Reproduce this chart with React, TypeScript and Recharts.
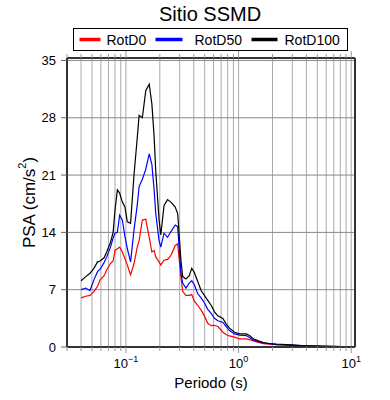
import React from 'react';
import { LineChart, Line, XAxis, YAxis, CartesianGrid, Legend, Label } from 'recharts';

const periods = [0.040, 0.044, 0.048, 0.052, 0.056, 0.059, 0.064, 0.068, 0.073, 0.077, 0.080, 0.084, 0.088, 0.093, 0.098, 0.103, 0.110, 0.118, 0.126, 0.131, 0.140, 0.150, 0.161, 0.170, 0.178, 0.184, 0.197, 0.204, 0.218, 0.234, 0.251, 0.274, 0.288, 0.308, 0.319, 0.341, 0.365, 0.384, 0.405, 0.434, 0.465, 0.497, 0.533, 0.571, 0.611, 0.655, 0.726, 0.777, 0.831, 0.921, 1.02, 1.17, 1.25, 1.35, 1.50, 1.66, 1.88, 2.17, 2.67, 3.63, 5.47, 8.26, 10.0];

const rotD0 = [6.0, 6.2, 6.3, 6.8, 7.4, 8.2, 8.7, 9.5, 10.2, 10.5, 11.8, 12.0, 12.2, 11.6, 10.8, 10.0, 8.8, 10.2, 12.2, 13.0, 15.5, 15.6, 13.4, 11.6, 11.8, 11.0, 10.4, 10.0, 10.6, 10.7, 11.2, 12.4, 12.6, 8.5, 6.8, 6.3, 6.3, 6.4, 5.6, 5.1, 4.5, 3.8, 2.9, 2.6, 2.65, 2.5, 1.8, 1.5, 1.35, 1.2, 1.0, 1.0, 0.9, 0.75, 0.55, 0.42, 0.35, 0.28, 0.22, 0.14, 0.08, 0.05, 0.04];

const rotD50 = [7.0, 7.2, 6.9, 8.2, 9.2, 9.5, 10.3, 11.1, 12.2, 13.3, 13.9, 14.0, 16.1, 15.5, 13.5, 12.0, 10.4, 14.3, 17.3, 19.6, 20.5, 21.7, 23.6, 22.3, 19.2, 16.3, 13.0, 12.2, 13.9, 13.4, 14.1, 14.9, 14.7, 9.0, 7.8, 7.2, 7.8, 8.1, 7.6, 6.5, 6.0, 5.4, 4.6, 4.1, 3.5, 3.2, 3.0, 2.5, 2.0, 1.6, 1.45, 1.4, 1.15, 0.85, 0.65, 0.5, 0.4, 0.3, 0.25, 0.16, 0.09, 0.05, 0.04];

const rotD100 = [8.1, 8.6, 9.0, 9.6, 10.4, 10.5, 10.9, 11.7, 12.8, 14.0, 16.7, 19.2, 18.8, 17.7, 17.1, 15.3, 15.1, 21.0, 25.5, 28.3, 28.0, 31.3, 32.1, 29.7, 25.7, 21.5, 15.5, 13.7, 17.3, 18.0, 17.7, 17.1, 16.3, 10.6, 8.6, 8.3, 8.7, 9.6, 9.1, 8.0, 6.9, 6.3, 5.7, 5.1, 4.3, 3.8, 3.5, 2.8, 2.3, 1.8, 1.6, 1.6, 1.4, 1.0, 0.75, 0.55, 0.43, 0.34, 0.28, 0.18, 0.1, 0.06, 0.05];

const yTicks = [0, 7, 14, 21, 28, 35];
const xTicks = [0.03, 0.04, 0.05, 0.06, 0.07, 0.08, 0.09, 0.1, 0.2, 0.3, 0.4, 0.5, 0.6, 0.7, 0.8, 0.9, 1, 2, 3, 4, 5, 6, 7, 8, 9, 10];
const majorTickValues = [0.1, 1, 10];
const majorTickExponents = ['\u22121', '0', '1'];

const seriesNames = ['RotD0', 'RotD50', 'RotD100'];
const seriesColors = ['#ff0000', '#0000ff', '#000000'];
const seriesValues = [rotD0, rotD50, rotD100];

const titleText = 'Sitio SSMD';
const xLabelText = 'Periodo (s)';

const FONT = '"Liberation Sans", Arial, Helvetica, sans-serif';

const data = periods.map((T, i) => {
  const row: Record<string, number> = { T };
  seriesNames.forEach((name, k) => {
    row[name] = seriesValues[k][i];
  });
  return row;
});

const majorIndex = (v: number) => majorTickValues.findIndex((m) => Math.abs(m - v) < 1e-9);

const BottomTick = (props: any) => {
  const { x, y, payload } = props;
  const idx = majorIndex(payload.value);
  const len = idx >= 0 ? 6 : 4;
  return (
    <g>
      <line x1={x} x2={x} y1={y} y2={y + len} stroke="#999" strokeWidth={1} />
      {idx >= 0 && (
        <text x={x} y={y + 21} textAnchor="middle" fontSize={13} fontFamily={FONT} fill="#000">
          10
          <tspan dy={-6} fontSize={9}>{majorTickExponents[idx]}</tspan>
        </text>
      )}
    </g>
  );
};

const TopTick = (props: any) => {
  const { x, y, payload } = props;
  const idx = majorIndex(payload.value);
  const len = idx >= 0 ? 7 : 4;
  return <line x1={x} x2={x} y1={y} y2={y - len} stroke="#999" strokeWidth={1} />;
};

const LegendBox = () => (
  <div
    style={{
      width: 275,
      height: 23,
      border: '1.5px solid #000',
      boxSizing: 'border-box',
      position: 'relative',
      background: '#fff',
    }}
  >
    <svg width={272} height={20} style={{ position: 'absolute', left: 0, top: 0 }}>
      {seriesNames.map((name, i) => {
        const lineStart = [5.5, 81.5, 177.5][i];
        const lineEnd = [26.5, 108.5, 203.5][i];
        const textX = [32.5, 120.5, 210.5][i];
        return (
          <g key={name}>
            <line x1={lineStart} x2={lineEnd} y1={10.5} y2={10.5} stroke={seriesColors[i]} strokeWidth={3.5} />
            <text x={textX} y={15.5} fontSize={14} fontFamily={FONT} fill="#000">
              {name}
            </text>
          </g>
        );
      })}
    </svg>
  </div>
);

const XLabel = (props: any) => {
  const vb = props.viewBox || { x: 67, y: 347, width: 288, height: 53 };
  return (
    <text x={vb.x + vb.width / 2} y={vb.y + 41} textAnchor="middle" fontSize={15} fontFamily={FONT} fill="#000">
      {xLabelText}
    </text>
  );
};

const YLabel = (props: any) => {
  const vb = props.viewBox || { x: 0, y: 58, width: 67, height: 289 };
  const cx = 29;
  const cy = vb.y + vb.height / 2;
  return (
    <text
      x={cx}
      y={cy}
      transform={`rotate(-90, ${cx}, ${cy})`}
      textAnchor="middle"
      dominantBaseline="central"
      fontSize={17}
      fontFamily={FONT}
      fill="#000"
    >
      PSA (cm/s
      <tspan dy={-7} fontSize={11}>2</tspan>
      <tspan dy={7}>)</tspan>
    </text>
  );
};

export default function App() {
  return (
    <div style={{ position: 'absolute', left: 0, top: 0, width: 390, height: 400, background: '#fff' }}>
      <div
        style={{
          position: 'absolute',
          left: 60,
          top: 4,
          width: 300,
          textAlign: 'center',
          fontFamily: FONT,
          fontSize: 20,
          lineHeight: '20px',
          color: '#000',
        }}
      >
        {titleText}
      </div>
      <LineChart width={390} height={400} data={data} margin={{ top: 0, right: 0, bottom: 0, left: 0 }}>
        <CartesianGrid vertical={true} horizontal={false} stroke="#aaa" strokeWidth={1} />
        <CartesianGrid vertical={false} horizontal={true} stroke="#888" strokeWidth={1} />
        <XAxis
          dataKey="T"
          type="number"
          scale="log"
          domain={[0.03, 10.8]}
          allowDataOverflow
          ticks={xTicks}
          interval={0}
          height={53}
          tickSize={0}
          tickMargin={0}
          tickLine={false}
          axisLine={{ stroke: '#333', strokeWidth: 2 }}
          tick={<BottomTick />}
        >
          <Label content={<XLabel />} />
        </XAxis>
        <XAxis
          xAxisId="top"
          orientation="top"
          dataKey="T"
          type="number"
          scale="log"
          domain={[0.03, 10.8]}
          allowDataOverflow
          ticks={xTicks}
          interval={0}
          height={58}
          tickSize={0}
          tickMargin={0}
          tickLine={false}
          axisLine={{ stroke: '#333', strokeWidth: 2 }}
          tick={<TopTick />}
        />
        <YAxis
          type="number"
          domain={[0, 35.3]}
          allowDataOverflow
          ticks={yTicks}
          interval={0}
          width={67}
          tickSize={6}
          tickMargin={5}
          tickLine={{ stroke: '#666' }}
          axisLine={{ stroke: '#333', strokeWidth: 2 }}
          tick={{ fontSize: 13, fontFamily: FONT, fill: '#000' }}
        >
          <Label content={<YLabel />} />
        </YAxis>
        <YAxis
          yAxisId="right"
          orientation="right"
          type="number"
          domain={[0, 35.3]}
          allowDataOverflow
          ticks={yTicks}
          interval={0}
          width={35}
          tickSize={5}
          tick={false}
          tickLine={{ stroke: '#999' }}
          axisLine={{ stroke: '#333', strokeWidth: 2 }}
        />
        <Legend
          layout="horizontal"
          verticalAlign="middle"
          align="center"
          wrapperStyle={{ position: 'absolute', left: 73, top: 28, width: 275, height: 23 }}
          content={() => <LegendBox />}
        />
        {seriesNames.map((name, i) => (
          <Line
            key={name}
            type="linear"
            dataKey={name}
            stroke={seriesColors[i]}
            strokeWidth={1.2}
            dot={false}
            activeDot={false}
            isAnimationActive={false}
          />
        ))}
      </LineChart>
    </div>
  );
}
